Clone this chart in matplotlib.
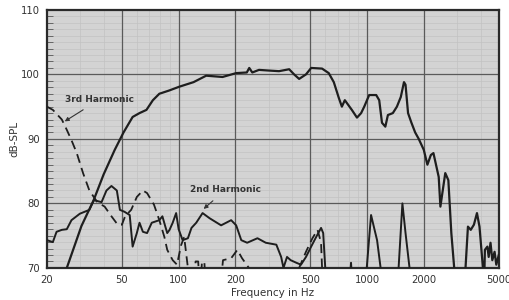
import matplotlib

matplotlib.use("Agg")
import matplotlib.pyplot as plt
from matplotlib.ticker import FixedLocator, MultipleLocator, NullFormatter

INK = "#1e1e1e"
GRID = "#5a5a5a"
PAPER = "#d3d3d3"

# --- fundamental (solid), values below 70 dB are off-chart
fund_f = [24, 25.5, 30.5, 35.4, 40, 45.8, 51, 57, 62, 67.5, 73, 79, 89, 101, 120, 140,
          171, 202, 230, 237, 246, 267, 300, 341, 386, 410, 436, 474, 505, 577, 626, 666,
          709, 735, 762, 830, 884, 930, 966, 1026, 1118, 1160, 1200, 1250, 1290, 1370,
          1440, 1510, 1570, 1600, 1650, 1720, 1800, 1880, 2000, 2090, 2180, 2250, 2400,
          2450, 2600, 2700, 2800, 2900, 2950, 3250, 3330, 3430, 3550, 3690, 3830, 3950,
          4120, 4170, 4220, 4350, 4420, 4520, 4620, 4750, 4850, 5000]
fund_db = [66, 70, 76.5, 80.5, 84.5, 88.3, 91, 93.4, 94, 94.5, 96, 97, 97.5, 98.1, 98.8, 99.8,
           99.6, 100.2, 100.3, 101, 100.3, 100.7, 100.6, 100.5, 100.8, 100, 99.3, 100, 101, 100.9, 100.2, 98.8,
           96.3, 95, 96, 94.5, 93.3, 94, 95, 96.8, 96.8, 96, 92.5, 91.9, 93.7, 94,
           95, 96.5, 98.8, 98.4, 94, 92.5, 91, 90, 88.3, 86, 87.5, 87.8, 84.1,
           79.5, 84.7, 83.6, 75.4, 70, 66, 66, 70, 76.4, 75.9, 76.7, 78.5, 76.4,
           70, 66, 72.8, 73.3, 71.7, 73.9, 71.2, 72.5, 70.5, 72]

# --- 2nd harmonic (solid)
h2_f = [20, 21.5, 22.5, 24, 25.5, 27, 29.9, 33.6, 35.5, 39, 41.4, 44, 47, 48.8, 51.6, 55,
        57, 60, 62, 64.6, 68, 72, 79, 82, 85, 87, 89.5, 93, 97, 100, 105, 112, 117, 124,
        134, 146, 168, 190, 202, 215, 231, 262, 290, 330, 350, 360, 376, 393, 421, 446,
        474, 505, 537, 570, 585, 600, 610, 800, 822, 840, 990, 996, 1050, 1090, 1130,
        1180, 1200, 1450, 1470, 1540, 1600, 1680, 1700]
h2_db = [74.3, 74, 75.6, 75.9, 76, 77.4, 78.4, 79, 80.5, 80.2, 82, 82.7, 82, 79, 78.7, 78.2,
         73.3, 75.4, 77, 75.6, 75.4, 77, 77.4, 78, 76.4, 75.4, 75.9, 77, 78.5, 76, 74.3, 74.6, 76.2, 77,
         78.5, 77.7, 76.6, 77.4, 76.6, 74.3, 73.9, 74.6, 73.9, 73.6, 71.7, 70, 71.7, 71.2, 70.8, 70.5,
         71.7, 73.3, 74.8, 76.2, 75.4, 70, 66, 66, 70.8, 66, 66, 70, 78.2, 76.2, 74.3,
         70, 66, 66, 70, 80, 75.4, 70, 66]

# --- 3rd harmonic (dashed)
h3_f = [20, 21.5, 24, 25.5, 27, 28.8, 31.1, 33.6, 37, 40.5, 44, 47.5, 50, 52, 56, 60, 64.6,
        68, 74, 79, 84, 87, 93, 98, 103, 107, 112, 114, 120, 123, 127, 130, 133, 137, 140,
        165, 172, 190, 205, 217, 236, 240, 430, 436, 474, 513, 546, 570, 577, 585]
h3_db = [95, 94.5, 93, 91.4, 89.8, 87.8, 84.7, 82, 80.2, 79.5, 78, 76.7, 76.7, 78, 79, 81, 82,
         81.6, 79.8, 77.4, 74.8, 72.8, 71.2, 70.5, 73.5, 74.8, 70, 66, 66, 71, 71, 66, 71, 70.8, 66,
         66, 71.2, 71.5, 72.8, 71.5, 70, 66, 66, 70, 72.5, 74.6, 75.9, 73.9, 70, 66]

x_ticks = [20, 50, 100, 200, 500, 1000, 2000, 5000]
y_ticks = [70, 80, 90, 100, 110]

fig = plt.figure(figsize=(5.1, 3.0), dpi=100)
ax = fig.add_axes([0.092, 0.107, 0.886, 0.86])
ax.set_facecolor(PAPER)
ax.set_axisbelow(True)

ax.plot(fund_f, fund_db, color=INK, lw=1.6, solid_joinstyle="round", zorder=4)
ax.plot(h2_f, h2_db, color=INK, lw=1.4, solid_joinstyle="round", zorder=4)
ax.plot(h3_f, h3_db, color=INK, lw=1.3, dashes=(5, 3), zorder=4)

ax.set_xscale("log")
ax.set_xlim(20, 5000)
ax.set_ylim(70, 110)

ax.xaxis.set_major_locator(FixedLocator(x_ticks))
ax.xaxis.set_major_formatter(plt.FixedFormatter([str(t) for t in x_ticks]))
ax.xaxis.set_minor_formatter(NullFormatter())
ax.yaxis.set_major_locator(FixedLocator(y_ticks))
ax.yaxis.set_minor_locator(MultipleLocator(1))

# fine paper grid underneath, heavier chart lines on top of it
ax.grid(which="minor", color="#c2c2c2", lw=0.5)
for t in x_ticks[1:-1]:
    ax.axvline(t, color=GRID, lw=0.9, zorder=2)
for t in y_ticks[1:-1]:
    ax.axhline(t, color=GRID, lw=0.9, zorder=2)

ax.tick_params(axis="both", which="major", length=0, labelsize=7.2, colors="#333333", pad=5)
ax.tick_params(axis="y", which="minor", direction="in", length=4, width=0.6, color="#555555")
ax.tick_params(axis="x", which="minor", length=0)
for s in ax.spines.values():
    s.set_linewidth(1.6)
    s.set_color("#2a2a2a")

ax.set_xlabel("Frequency in Hz", fontsize=7.5, color="#333333", labelpad=2)
ax.set_ylabel("dB-SPL", fontsize=7.5, color="#333333", labelpad=1)

ax.annotate("3rd Harmonic", xy=(24.5, 92.6), xytext=(38, 96.1), fontsize=6.5,
            fontweight="bold", color="#333333", ha="center", va="center", zorder=5,
            arrowprops=dict(arrowstyle="-|>", color="#333333", lw=0.8,
                            mutation_scale=6, shrinkA=4, shrinkB=1))
ax.annotate("2nd Harmonic", xy=(134, 79.0), xytext=(177, 82.1), fontsize=6.5,
            fontweight="bold", color="#333333", ha="center", va="center", zorder=5,
            arrowprops=dict(arrowstyle="-|>", color="#333333", lw=0.8,
                            mutation_scale=6, shrinkA=4, shrinkB=1))

fig.savefig("out.png", dpi=100, facecolor="white")
